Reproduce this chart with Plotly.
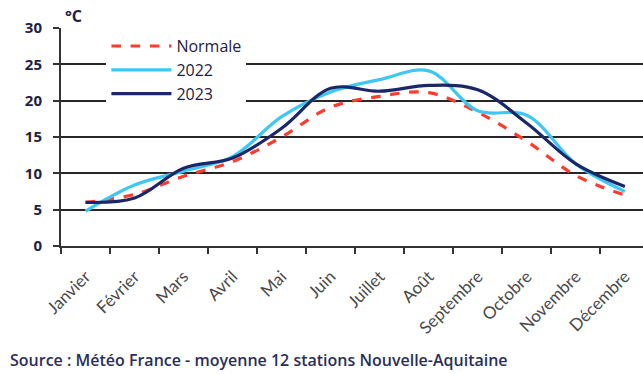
import plotly.graph_objects as go

# Monthly mean temperatures (°C), Nouvelle-Aquitaine
months = ["Janvier", "Février", "Mars", "Avril", "Mai", "Juin", "Juillet",
          "Août", "Septembre", "Octobre", "Novembre", "Décembre"]
normale = [6.0, 7.1, 9.6, 11.6, 15.0, 19.1, 20.6, 21.1, 18.4, 14.4, 9.7, 7.0]
t2022 = [4.8, 8.4, 10.3, 12.3, 17.8, 21.2, 22.9, 24.1, 18.6, 18.0, 11.3, 7.5]
t2023 = [6.0, 6.6, 10.7, 12.1, 16.2, 21.7, 21.3, 22.1, 21.5, 16.9, 11.3, 8.2]
y_ticks = [0, 5, 10, 15, 20, 25, 30]

navy = "#1b2769"
red = "#ff3b2f"
sky = "#3cc8f2"
text_col = "#1e2140"

fig = go.Figure()
fig.add_trace(go.Scatter(
    x=months, y=normale, name="Normale", mode="lines",
    line=dict(color=red, width=3.2, dash="dash", shape="spline", smoothing=1.0)))
fig.add_trace(go.Scatter(
    x=months, y=t2022, name="2022", mode="lines",
    line=dict(color=sky, width=3.2, shape="spline", smoothing=1.0)))
fig.add_trace(go.Scatter(
    x=months, y=t2023, name="2023", mode="lines",
    line=dict(color=navy, width=3.2, shape="spline", smoothing=1.0)))

fig.update_layout(
    width=643, height=374,
    margin=dict(l=61, r=0, t=28, b=128),
    paper_bgcolor="white", plot_bgcolor="white",
    font=dict(family="Open Sans", color=text_col),
    showlegend=True,
    legend=dict(
        x=0.078, y=0.995, xanchor="left", yanchor="top",
        bgcolor="white", borderwidth=0,
        font=dict(size=16, color=text_col),
        itemwidth=60, tracegroupgap=0,
    ),
)

fig.update_xaxes(
    type="category", range=[-0.5, 11.37],
    tickson="boundaries", ticks="outside", ticklen=6, tickwidth=1.5,
    tickcolor="#333333", showline=True, linecolor="#333333", linewidth=2,
    showgrid=False, tickangle=-45, ticklabelstandoff=12,
    tickfont=dict(family="Lato", size=17, color="#4a4a4a"),
)
fig.update_yaxes(
    range=[0, 30], tickvals=y_ticks, ticks="outside", ticklen=6,
    tickwidth=1.5, tickcolor="#333333",
    showline=True, linecolor="#333333", linewidth=2,
    showgrid=True, gridcolor="#262626", gridwidth=1.6,
    zeroline=False, ticklabelstandoff=8,
    tickfont=dict(size=15, color=text_col, weight="bold"),
)

fig.add_annotation(
    text="°C", xref="paper", yref="paper", x=0.003, y=0.995,
    xanchor="left", yanchor="bottom", showarrow=False,
    font=dict(size=16, color=text_col, weight="bold"))
fig.add_annotation(
    text="Températures moyennes mensuelles", xref="paper", yref="paper",
    x=-0.075, y=1.115, xanchor="left", yanchor="bottom", showarrow=False,
    font=dict(size=15, color="#555555", weight="bold"))
fig.add_annotation(
    text="Source : Météo France - moyenne 12 stations Nouvelle-Aquitaine",
    xref="paper", yref="paper", x=-0.091, y=-0.525,
    xanchor="left", yanchor="middle", showarrow=False,
    font=dict(size=16, color="#2a2f5a", weight=600))

fig.write_html("out.html")
